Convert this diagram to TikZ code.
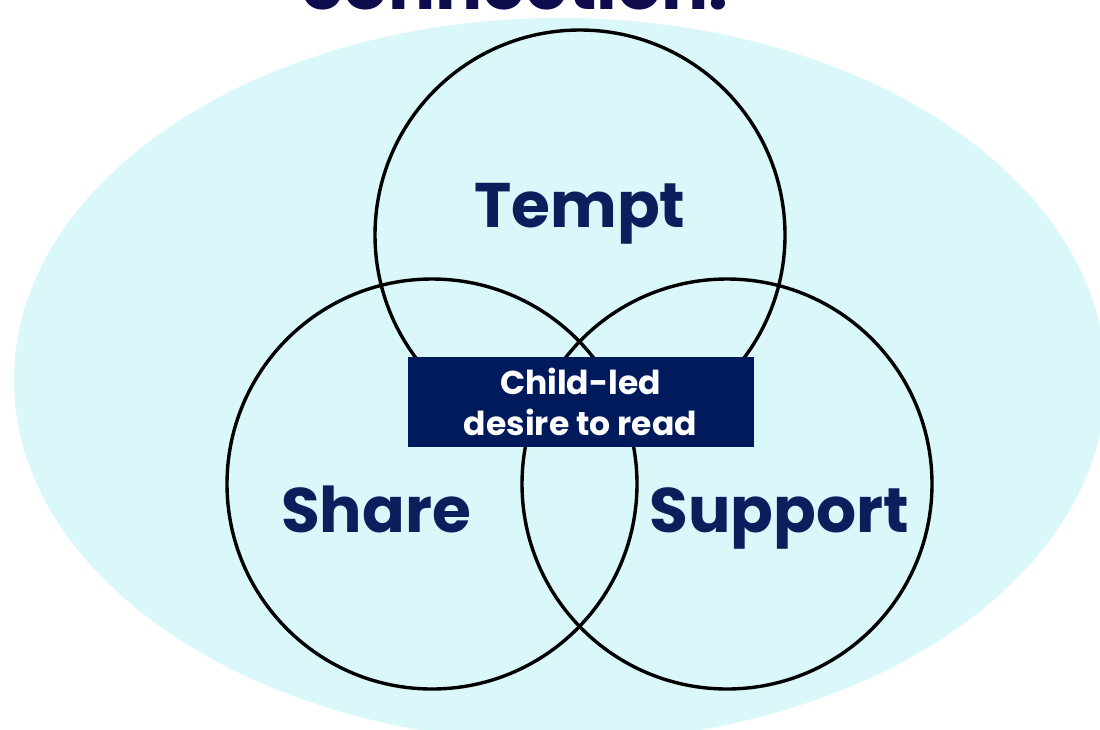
\documentclass[tikz,border=0pt]{standalone}
\usepackage{fontspec}
\setmainfont{Poppins}
\definecolor{bgcyan}{HTML}{DAF8F9}
\definecolor{navytext}{HTML}{0B1F5C}
\definecolor{boxnavy}{HTML}{001A5C}
\definecolor{titlenavy}{HTML}{0E0C4C}
\tikzset{
  ring/.style={circle, draw=black, line width=3.4pt, minimum size=410pt, inner sep=0pt},
  lbl/.style={anchor=base, text=navytext, font=\fontsize{63}{70}\selectfont\bfseries, inner sep=0pt},
  corebox/.style={fill=boxnavy, text=white, minimum width=346pt, minimum height=90pt, inner sep=0pt, align=center, font=\fontsize{33}{41}\selectfont\bfseries},
  titletext/.style={anchor=base, text=titlenavy, font=\fontsize{70}{76}\selectfont\bfseries, inner sep=0pt}
}
\begin{document}
\begin{tikzpicture}[x=1pt,y=-1pt]
\useasboundingbox (0,0) rectangle (1100,729);
\clip (0,0) rectangle (1100,729);
\fill[white] (0,0) rectangle (1100,729);
\fill[bgcyan] (560,380) ellipse [x radius=546, y radius=362];
\node[titletext] (title) at (515,9) {connection.};
\node[ring] (ctempt) at (580,235) {};
\node[ring] (cshare) at (432,484) {};
\node[ring] (csupport) at (727,484) {};
\node[corebox] (core) at (580.5,401.5) {Child-led\\desire to read};
\node[lbl] (tempt) at (580,227) {Tempt};
\node[lbl] (share) at (376,532) {Share};
\node[lbl] (support) at (779,532) {Support};
\end{tikzpicture}
\end{document}
